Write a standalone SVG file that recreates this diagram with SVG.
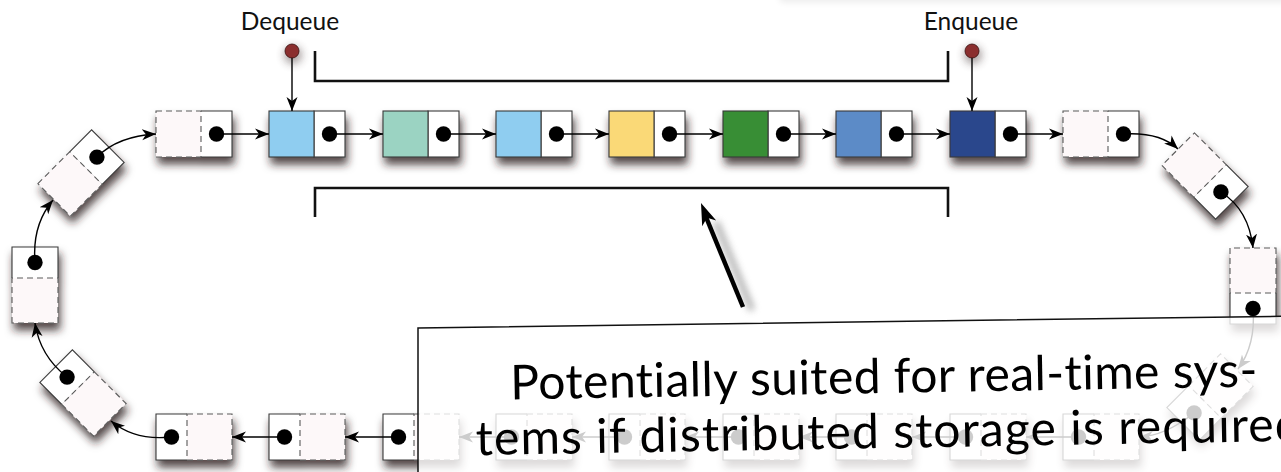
<svg xmlns="http://www.w3.org/2000/svg" xmlns:xlink="http://www.w3.org/1999/xlink" width="1281" height="472" viewBox="0 0 1281 472">
  <style>
    .lbl { font-family: Lato, "Open Sans", "DejaVu Sans", sans-serif; font-size: 24.5px; fill: #111; text-anchor: middle; }
    .note { font-family: Lato, "Open Sans", "DejaVu Sans", sans-serif; font-size: 48px; fill: #000; text-anchor: middle; font-variant-ligatures: none; font-feature-settings: "liga" 0; }
    .edge { fill: none; stroke: #3a3a3a; stroke-width: 1.1; }
    .dash { fill: #fdf8f9; stroke: #5a5a5a; stroke-width: 1.1; stroke-dasharray: 6 4; }
    .link { fill: none; stroke: #000; stroke-width: 1.4; marker-end: url(#head); }
    .bracket { fill: none; stroke: #111; stroke-width: 2.6; }
  </style>
  <defs>
    <filter id="shadow" x="-40%" y="-40%" width="180%" height="190%">
      <feGaussianBlur in="SourceAlpha" stdDeviation="4"/>
      <feOffset dx="2" dy="7" result="b"/>
      <feFlood flood-color="#2b1d1d" flood-opacity="0.8"/>
      <feComposite in2="b" operator="in"/>
      <feMerge><feMergeNode/><feMergeNode in="SourceGraphic"/></feMerge>
    </filter>
    <filter id="glow" x="-100%" y="-100%" width="300%" height="300%">
      <feGaussianBlur stdDeviation="4"/>
    </filter>
    <filter id="soft" x="-50%" y="-50%" width="200%" height="200%">
      <feGaussianBlur stdDeviation="3.5"/>
    </filter>
    <marker id="head" viewBox="0 0 14 12" refX="14" refY="6" markerWidth="14" markerHeight="12" markerUnits="userSpaceOnUse" orient="auto">
      <path d="M0,0.5 L14,6 L0,11.5 L4,6 z" fill="#000"/>
    </marker>
    <!-- empty cell, pointer on the right -->
    <g id="cellR">
      <rect x="7" y="-23" width="31" height="46" fill="#fff"/>
      <path d="M7,-23H38V23H7" class="edge"/>
      <rect x="-38" y="-23" width="45" height="46" class="dash"/>
      <circle cx="22.5" cy="0" r="7.7" fill="#050505"/>
    </g>
    <!-- empty cell, pointer on the left -->
    <g id="cellL">
      <rect x="-38" y="-23" width="31" height="46" fill="#fff"/>
      <path d="M-7,-23H-38V23H-7" class="edge"/>
      <rect x="-7" y="-23" width="45" height="46" class="dash"/>
      <circle cx="-22.5" cy="0" r="7.7" fill="#050505"/>
    </g>
    <!-- filled cell, data colour inherited from the use element -->
    <g id="cellC">
      <rect x="7" y="-23" width="31" height="46" fill="#fff" stroke="#3a3a3a" stroke-width="1.1"/>
      <rect x="-38" y="-23" width="45" height="46" stroke="#3a3a3a" stroke-width="1.1"/>
      <circle cx="22.5" cy="0" r="7.7" fill="#050505"/>
    </g>
  </defs>

  <rect width="1281" height="472" fill="#fff"/>
  <rect x="780" y="-30" width="540" height="32" fill="#000" opacity="0.08" filter="url(#soft)"/>

  <!-- labels and brackets -->
  <text class="lbl" x="290" y="30">Dequeue</text>
  <text class="lbl" x="971" y="30">Enqueue</text>
  <path class="bracket" d="M315,51V81H948V51"/>
  <path class="bracket" d="M315,217V188H948V217"/>

  <!-- ring of cells -->
  <g id="nodes">
    <g id="top-0" filter="url(#shadow)"><use xlink:href="#cellR" transform="translate(194,134)"/></g>
    <g id="top-1" filter="url(#shadow)"><use xlink:href="#cellC" fill="#8fcdf0" transform="translate(307,134)"/></g>
    <g id="top-2" filter="url(#shadow)"><use xlink:href="#cellC" fill="#9bd3c2" transform="translate(421,134)"/></g>
    <g id="top-3" filter="url(#shadow)"><use xlink:href="#cellC" fill="#8fcdf0" transform="translate(534,134)"/></g>
    <g id="top-4" filter="url(#shadow)"><use xlink:href="#cellC" fill="#fad977" transform="translate(647,134)"/></g>
    <g id="top-5" filter="url(#shadow)"><use xlink:href="#cellC" fill="#388e34" transform="translate(761,134)"/></g>
    <g id="top-6" filter="url(#shadow)"><use xlink:href="#cellC" fill="#5b8bc7" transform="translate(874,134)"/></g>
    <g id="top-7" filter="url(#shadow)"><use xlink:href="#cellC" fill="#2c468c" transform="translate(988,134)"/></g>
    <g id="top-8" filter="url(#shadow)"><use xlink:href="#cellR" transform="translate(1101,134)"/></g>

    <g id="right-0" filter="url(#shadow)"><use xlink:href="#cellR" transform="translate(1205,176) rotate(45)"/></g>
    <g id="right-1" filter="url(#shadow)"><use xlink:href="#cellR" transform="translate(1253,286) rotate(90)"/></g>
    <g id="right-2" filter="url(#shadow)"><use xlink:href="#cellL" transform="translate(1210,397) rotate(-45)"/></g>

    <g id="bottom-8" filter="url(#shadow)"><use xlink:href="#cellL" transform="translate(1101,437)"/></g>
    <g id="bottom-7" filter="url(#shadow)"><use xlink:href="#cellL" transform="translate(988,437)"/></g>
    <g id="bottom-6" filter="url(#shadow)"><use xlink:href="#cellL" transform="translate(874,437)"/></g>
    <g id="bottom-5" filter="url(#shadow)"><use xlink:href="#cellL" transform="translate(761,437)"/></g>
    <g id="bottom-4" filter="url(#shadow)"><use xlink:href="#cellL" transform="translate(647,437)"/></g>
    <g id="bottom-3" filter="url(#shadow)"><use xlink:href="#cellL" transform="translate(534,437)"/></g>
    <g id="bottom-2" filter="url(#shadow)"><use xlink:href="#cellL" transform="translate(421,437)"/></g>
    <g id="bottom-1" filter="url(#shadow)"><use xlink:href="#cellL" transform="translate(307,437)"/></g>
    <g id="bottom-0" filter="url(#shadow)"><use xlink:href="#cellL" transform="translate(194,437)"/></g>

    <g id="left-2" filter="url(#shadow)"><use xlink:href="#cellL" transform="translate(83,393) rotate(45)"/></g>
    <g id="left-1" filter="url(#shadow)"><use xlink:href="#cellR" transform="translate(35,285) rotate(-90)"/></g>
    <g id="left-0" filter="url(#shadow)"><use xlink:href="#cellR" transform="translate(81,173) rotate(-45)"/></g>
  </g>

  <!-- head and tail pointers -->
  <g id="pointers">
    <circle cx="293" cy="55" r="9" fill="#3a2a2a" opacity="0.45" filter="url(#glow)"/>
    <circle cx="973" cy="55" r="9" fill="#3a2a2a" opacity="0.45" filter="url(#glow)"/>
    <line class="link" x1="292" y1="57" x2="292" y2="111"/>
    <line class="link" x1="972" y1="57" x2="972" y2="111"/>
    <circle cx="292" cy="51" r="7" fill="#8b2f2f" stroke="#3a1010" stroke-width="0.8"/>
    <circle cx="972" cy="51" r="7" fill="#8b2f2f" stroke="#3a1010" stroke-width="0.8"/>
  </g>

  <!-- links between cells -->
  <g id="connectors">
    <line class="link" x1="216" y1="134" x2="269" y2="134"/>
    <line class="link" x1="329" y1="134" x2="383" y2="134"/>
    <line class="link" x1="443" y1="134" x2="496" y2="134"/>
    <line class="link" x1="556" y1="134" x2="609" y2="134"/>
    <line class="link" x1="669" y1="134" x2="723" y2="134"/>
    <line class="link" x1="783" y1="134" x2="836" y2="134"/>
    <line class="link" x1="896" y1="134" x2="950" y2="134"/>
    <line class="link" x1="1010" y1="134" x2="1063" y2="134"/>
    <path class="link" d="M1124,134 Q1160,132 1178,149"/>
    <path class="link" d="M1221,192 Q1249,210 1253,248"/>
    <path class="link" d="M1253,308 Q1256,345 1238,369"/>
    <path class="link" d="M1194,413 Q1165,436 1139,437"/>
    <line class="link" x1="1078" y1="437" x2="1026" y2="437"/>
    <line class="link" x1="965" y1="437" x2="912" y2="437"/>
    <line class="link" x1="851" y1="437" x2="799" y2="437"/>
    <line class="link" x1="738" y1="437" x2="685" y2="437"/>
    <line class="link" x1="624" y1="437" x2="572" y2="437"/>
    <line class="link" x1="511" y1="437" x2="459" y2="437"/>
    <line class="link" x1="398" y1="437" x2="345" y2="437"/>
    <line class="link" x1="284" y1="437" x2="232" y2="437"/>
    <path class="link" d="M171,437 Q135,441 111,421"/>
    <path class="link" d="M67,377 Q40,356 35,323"/>
    <path class="link" d="M35,262 Q32,225 53,200"/>
    <path class="link" d="M97,157 Q118,136 156,134"/>
  </g>

  <!-- callout -->
  <g id="callout">
    <polygon points="418,328 1300,316 1300,480 418,480" fill="#fff" fill-opacity="0.8" stroke="#111" stroke-width="1.5"/>
    <g transform="rotate(-1 884 390)">
      <text class="note" x="884" y="393" textLength="747" lengthAdjust="spacing">Potentially suited for real-time sys-</text>
      <text class="note" x="888" y="448" textLength="826" lengthAdjust="spacing">tems if distributed storage is required</text>
    </g>
    <g id="callout-arrow">
      <path d="M752,310 L716,222" stroke="#777" stroke-width="6" opacity="0.6" filter="url(#soft)"/>
      <line x1="743" y1="307" x2="706" y2="217" stroke="#000" stroke-width="4.5"/>
      <polygon points="701,203 716.2,220.6 707,217.8 702.2,226.2" fill="#000"/>
    </g>
  </g>
</svg>
